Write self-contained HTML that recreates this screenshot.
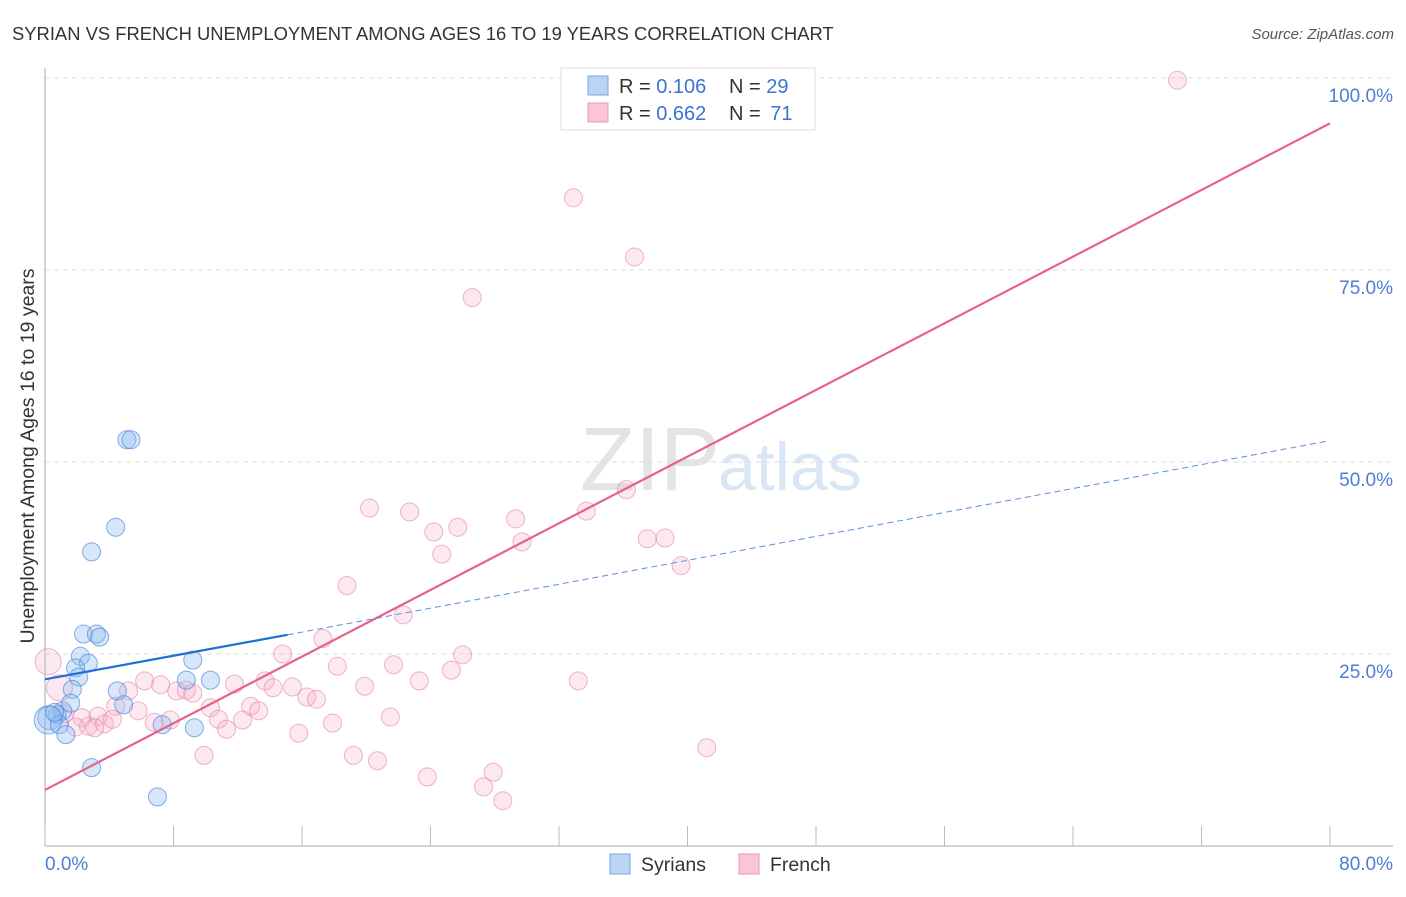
<!DOCTYPE html>
<html><head><meta charset="utf-8"><style>
body{margin:0;background:#fff;font-family:"Liberation Sans",sans-serif;}
svg text{font-family:"Liberation Sans",sans-serif;}
</style></head><body>
<svg width="1406" height="892" viewBox="0 0 1406 892">
<text x="12" y="40" font-size="18.4" fill="#333">SYRIAN VS FRENCH UNEMPLOYMENT AMONG AGES 16 TO 19 YEARS CORRELATION CHART</text>
<text x="1394" y="39" font-size="15" fill="#555" font-style="italic" text-anchor="end">Source: ZipAtlas.com</text>
<text x="720" y="490" font-size="90" fill="#e4e4e4" text-anchor="end" font-family="Liberation Serif">ZIP</text>
<text x="718" y="490" font-size="68" fill="#d8e6f6">atlas</text>
<g id="grid"></g>
<line x1="45" y1="68" x2="45" y2="846" stroke="#aaa"/>
<line x1="45" y1="846" x2="1393" y2="846" stroke="#aaa"/>
<g id="xticks"></g>
<text x="34" y="456" font-size="19.5" fill="#333" text-anchor="middle" transform="rotate(-90 34 456)">Unemployment Among Ages 16 to 19 years</text>
<text x="45" y="870" font-size="19" fill="#4a7fd4">0.0%</text>
<text x="1393" y="870" font-size="19" fill="#4a7fd4" text-anchor="end">80.0%</text>
<g id="points"></g>
<g id="lines"></g>
<g>
<rect x="561" y="68" width="254" height="62" fill="#fff" stroke="#ddd"/>
<rect x="588" y="76" width="20" height="19" fill="#b9d4f5" stroke="#7aa6e0"/>
<rect x="588" y="103" width="20" height="19" fill="#fac6d6" stroke="#ea97b1"/>
<text x="619" y="93" font-size="20" fill="#333">R = <tspan fill="#3a74d2">0.106</tspan><tspan x="729">N = </tspan><tspan fill="#3a74d2">29</tspan></text>
<text x="619" y="120" font-size="20" fill="#333">R = <tspan fill="#3a74d2">0.662</tspan><tspan x="729">N = </tspan><tspan fill="#3a74d2" dx="4">71</tspan></text>
</g>
<g>
<rect x="610" y="854" width="20" height="20" fill="#b9d4f5" stroke="#7aa6e0"/>
<text x="641" y="871" font-size="19.5" fill="#333">Syrians</text>
<rect x="739" y="854" width="20" height="20" fill="#fac6d6" stroke="#ea97b1"/>
<text x="770" y="871" font-size="19.5" fill="#333">French</text>
</g>
</svg>
<script>
const yTicks=[25,50,75,100];
const yTickLabels=["25.0%","50.0%","75.0%","100.0%"];
const xTicks=[0,8,16,24,32,40,48,56,64,72,80];
const syrX=[5.1,5.35,4.4,2.9,2.4,3.2,3.4,2.2,2.7,1.9,2.1,9.2,8.8,10.3,4.5,4.9,1.7,1.1,0.75,0.3,0.2,0.9,1.3,7.3,9.3,2.9,7.0,1.6,0.6];
const syrY=[52.9,52.9,41.5,38.3,27.6,27.6,27.2,24.7,23.8,23.2,22.0,24.2,21.6,21.6,20.2,18.4,20.4,17.6,17.1,16.7,16.4,15.8,14.5,15.8,15.4,10.2,6.4,18.6,17.4];
const syrR=[9,9,9,9,9,9,9,9,9,9,9,9,9,9,9,9,9,9,9,12,14,9,9,9,9,9,9,9,9];
const frX=[70.5,43.4,38.4,32.9,36.7,26.6,36.2,20.2,22.7,33.7,25.7,24.2,29.3,37.5,38.6,29.7,24.7,39.6,18.8,22.3,17.3,26.0,14.8,0.2,21.7,18.2,25.3,33.2,23.3,6.2,7.2,11.8,13.7,15.4,19.9,8.2,8.8,9.2,5.2,14.2,16.3,16.9,0.9,4.4,5.8,10.3,12.8,13.3,1.2,3.3,2.3,2.7,3.7,4.2,6.8,7.8,10.8,12.3,17.9,21.5,11.3,15.8,9.9,19.2,20.7,41.2,23.8,27.9,27.3,28.5,1.9,3.1];
const frY=[99.7,99.7,99.7,84.4,76.7,71.4,46.4,44.0,43.5,43.6,41.5,40.9,42.6,40.0,40.1,39.6,38.0,36.5,33.9,30.1,27.0,24.9,25.0,24.0,23.6,23.4,22.9,21.5,21.5,21.5,21.0,21.1,21.5,20.7,20.8,20.2,20.3,19.9,20.2,20.6,19.4,19.1,20.6,18.2,17.6,18.0,18.2,17.6,17.2,16.9,16.7,15.6,15.9,16.5,16.1,16.4,16.5,16.4,16.0,16.8,15.2,14.7,11.8,11.8,11.1,12.8,9.0,9.6,7.7,5.9,15.5,15.4];
const trendX=[0,15.1,79.8];
const syrTrend=[21.7,27.5,52.7];
const frTrendX=[0,80];
const frTrend=[7.3,94.1];
const NS="http://www.w3.org/2000/svg";
const xs=v=>45+v*(1285/80);
const ys=v=>846-v*7.68;
function mk(tag,attrs,parent){const e=document.createElementNS(NS,tag);for(const k in attrs)e.setAttribute(k,attrs[k]);parent.appendChild(e);return e;}
const grid=document.getElementById('grid');
yTicks.forEach((t,i)=>{
 const l=mk('line',{x1:45,x2:1393,y1:ys(t),y2:ys(t),stroke:'#ddd','stroke-dasharray':'5,4'},grid);
 
 
 const tx=mk('text',{x:1393,y:ys(t)+24,'font-size':19,fill:'#4a7fd4','text-anchor':'end'},grid);
 tx.textContent=yTickLabels[i];
 
 
});
const xt=document.getElementById('xticks');
xTicks.forEach(t=>{
 const l=mk('line',{x1:xs(t),x2:xs(t),y1:826,y2:846,stroke:'#bbb'},xt);
 
 
});
const pts=document.getElementById('points');
frX.forEach((x,i)=>{
 const r=(i===23||i===42)?13:9;
 const c=mk('circle',{cx:xs(x),cy:ys(frY[i]),r:r,fill:'rgba(246,172,198,0.28)',stroke:'rgba(232,130,165,0.6)','stroke-width':1},pts);
 
 
});
syrX.forEach((x,i)=>{
 const c=mk('circle',{cx:xs(x),cy:ys(syrY[i]),r:syrR[i],fill:'rgba(140,185,240,0.35)',stroke:'rgba(70,130,215,0.65)','stroke-width':1},pts);
 
 
});
const ln=document.getElementById('lines');
const f=mk('line',{x1:xs(frTrendX[0]),y1:ys(frTrend[0]),x2:xs(frTrendX[1]),y2:ys(frTrend[1]),stroke:'#e8608f','stroke-width':2.2},ln);


const s1=mk('line',{x1:xs(trendX[0]),y1:ys(syrTrend[0]),x2:xs(trendX[1]),y2:ys(syrTrend[1]),stroke:'#1f6fd6','stroke-width':2.2},ln);


const s2=mk('line',{x1:xs(trendX[1]),y1:ys(syrTrend[1]),x2:xs(trendX[2]),y2:ys(syrTrend[2]),stroke:'#5a8fd8','stroke-width':1,'stroke-dasharray':'6,4'},ln);


</script>
</body></html>
